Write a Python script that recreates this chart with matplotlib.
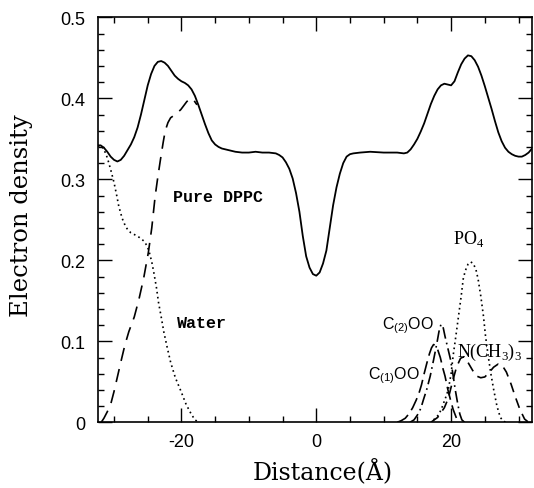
import matplotlib
matplotlib.use("Agg")
import matplotlib.pyplot as plt
from matplotlib.ticker import MultipleLocator

# ---- data ----
total_x = [-32.4, -32.0, -31.5, -31.0, -30.5, -30.0, -29.5, -29.0, -28.5, -28.0, -27.5, -27.0,
           -26.5, -26.0, -25.5, -25.0, -24.5, -24.0, -23.5, -23.0, -22.5, -22.0, -21.5, -21.0,
           -20.5, -20.0, -19.5, -19.0, -18.5, -18.0, -17.5, -17.0, -16.5, -16.0, -15.5, -15.0,
           -14.5, -14.0, -13.0, -12.0, -11.0, -10.0, -9.0, -8.0, -7.0, -6.0, -5.5, -5.0, -4.5,
           -4.0, -3.5, -3.0, -2.5, -2.0, -1.5, -1.0, -0.5, 0.0, 0.5, 1.0, 1.5, 2.0, 2.5, 3.0,
           3.5, 4.0, 4.5, 5.0, 5.5, 6.5, 8.0, 10.0, 12.0, 13.0, 13.5, 14.0, 14.5, 15.0, 15.5,
           16.0, 16.5, 17.0, 17.5, 18.0, 18.5, 19.0, 19.5, 20.0, 20.5, 21.0, 21.5, 22.0, 22.5,
           23.0, 23.5, 24.0, 24.5, 25.0, 25.5, 26.0, 26.5, 27.0, 27.5, 28.0, 28.5, 29.0, 29.5,
           30.0, 30.5, 31.0, 31.5, 32.0]
total_y = [0.341, 0.342, 0.339, 0.334, 0.328, 0.324, 0.322, 0.324, 0.329, 0.336, 0.343, 0.352,
           0.364, 0.380, 0.398, 0.416, 0.430, 0.440, 0.445, 0.446, 0.444, 0.440, 0.434, 0.428,
           0.424, 0.421, 0.419, 0.416, 0.411, 0.403, 0.392, 0.380, 0.368, 0.357, 0.348, 0.343,
           0.340, 0.338, 0.336, 0.334, 0.333, 0.333, 0.334, 0.333, 0.333, 0.332, 0.330, 0.327,
           0.321, 0.313, 0.301, 0.283, 0.260, 0.230, 0.205, 0.191, 0.183, 0.181, 0.185, 0.196,
           0.212, 0.240, 0.268, 0.290, 0.307, 0.320, 0.328, 0.331, 0.332, 0.333, 0.334, 0.333,
           0.333, 0.332, 0.333, 0.337, 0.343, 0.350, 0.359, 0.369, 0.381, 0.393, 0.403, 0.411,
           0.416, 0.418, 0.417, 0.416, 0.421, 0.432, 0.442, 0.449, 0.453, 0.452, 0.447, 0.439,
           0.428, 0.415, 0.401, 0.387, 0.372, 0.358, 0.347, 0.339, 0.334, 0.331, 0.329, 0.328,
           0.328, 0.330, 0.333, 0.338]

water_x = [-32.4, -32.0, -31.5, -31.1, -30.8, -30.4, -30.0, -29.6, -29.3, -28.8, -28.3, -27.9,
           -27.5, -26.8, -26.2, -25.6, -25.1, -24.8, -24.4, -24.1, -23.7, -23.4, -23.0, -22.6,
           -22.1, -21.6, -20.9, -20.1, -19.3, -18.6, -18.0, -17.4]
water_y = [0.342, 0.342, 0.337, 0.329, 0.321, 0.309, 0.296, 0.280, 0.267, 0.252, 0.242, 0.237,
           0.234, 0.231, 0.228, 0.224, 0.218, 0.211, 0.198, 0.185, 0.166, 0.148, 0.130, 0.111,
           0.092, 0.074, 0.055, 0.039, 0.022, 0.011, 0.003, 0.0]

lipid_x = [-31.9, -31.5, -31.0, -30.5, -30.0, -29.5, -29.0, -28.4, -27.8, -27.0, -26.3, -25.6,
           -24.9, -24.4, -23.9, -23.5, -23.1, -22.7, -22.4, -22.0, -21.6, -20.9, -20.1, -19.2,
           -18.6, -18.2, -17.7]
lipid_y = [0.0, 0.005, 0.013, 0.022, 0.038, 0.056, 0.074, 0.095, 0.112, 0.130, 0.152, 0.178,
           0.210, 0.240, 0.279, 0.303, 0.325, 0.346, 0.360, 0.370, 0.376, 0.380, 0.386, 0.396,
           0.400, 0.398, 0.392]

c1oo_x = [12.0, 12.6, 13.2, 13.8, 14.3, 14.8, 15.2, 15.6, 16.0, 16.4, 16.8, 17.1, 17.4, 17.7,
          18.0, 18.4, 18.8, 19.1, 19.5, 19.9, 20.3, 20.8, 21.3]
c1oo_y = [0.0, 0.002, 0.005, 0.011, 0.018, 0.027, 0.035, 0.046, 0.060, 0.073, 0.085, 0.092,
          0.096, 0.095, 0.090, 0.080, 0.066, 0.057, 0.041, 0.028, 0.016, 0.005, 0.0]

c2oo_x = [13.9, 14.5, 15.0, 15.5, 15.9, 16.4, 16.9, 17.4, 17.9, 18.2, 18.5, 18.8, 19.1, 19.5,
          19.9, 20.3, 20.6, 21.0, 21.3, 21.6, 22.0]
c2oo_y = [0.0, 0.003, 0.009, 0.017, 0.028, 0.041, 0.057, 0.077, 0.098, 0.112, 0.121, 0.118,
          0.106, 0.092, 0.078, 0.058, 0.041, 0.022, 0.010, 0.003, 0.0]

po4_x = [17.4, 18.0, 18.5, 18.9, 19.3, 19.6, 20.0, 20.3, 20.7, 21.1, 21.5, 21.8, 22.1, 22.5,
         22.9, 23.3, 23.7, 24.0, 24.4, 24.8, 25.1, 25.5, 25.9, 26.3, 26.8, 27.3, 27.8, 28.3]
po4_y = [0.003, 0.008, 0.015, 0.024, 0.033, 0.041, 0.060, 0.082, 0.106, 0.131, 0.156, 0.177,
         0.187, 0.195, 0.198, 0.196, 0.188, 0.177, 0.156, 0.131, 0.107, 0.082, 0.060, 0.041,
         0.020, 0.006, 0.001, 0.0]

nch3_x = [17.0, 18.0, 19.0, 19.6, 20.2, 20.8, 21.4, 21.9, 22.5, 23.2, 23.8, 24.4, 25.0, 25.6,
          26.3, 27.0, 27.6, 28.2, 28.9, 29.5, 30.2, 30.9, 31.5]
nch3_y = [0.0, 0.006, 0.018, 0.030, 0.050, 0.068, 0.079, 0.081, 0.074, 0.064, 0.057, 0.055,
          0.056, 0.061, 0.068, 0.072, 0.070, 0.062, 0.047, 0.032, 0.016, 0.004, 0.0]

x_ticks = [-20, 0, 20]
y_ticks = [0, 0.1, 0.2, 0.3, 0.4, 0.5]
y_tick_labels = ["0", "0.1", "0.2", "0.3", "0.4", "0.5"]

# ---- figure ----
fig = plt.figure(figsize=(5.34, 4.89), dpi=100)
ax = fig.add_axes([97.5 / 534, (489 - 423.3) / 489, 434.5 / 534, 405 / 489])

lw = 1.2
ax.plot(total_x, total_y, color="black", lw=lw + 0.1, solid_joinstyle="round")
ax.plot(water_x, water_y, color="black", lw=lw, linestyle=(0, (1.0, 2.0)))
ax.plot(lipid_x, lipid_y, color="black", lw=lw, linestyle=(0, (8, 5)))
ax.plot(c1oo_x, c1oo_y, color="black", lw=lw, linestyle=(0, (8, 3.5)))
ax.plot(c2oo_x, c2oo_y, color="black", lw=lw, linestyle=(0, (7, 2.5, 1, 2.5)))
ax.plot(po4_x, po4_y, color="black", lw=lw, linestyle=(0, (1.0, 2.0)))
ax.plot(nch3_x, nch3_y, color="black", lw=lw, linestyle=(0, (6, 4)))

ax.set_xlim(-32.45, 32.0)
ax.set_ylim(0, 0.5)
ax.set_xticks(x_ticks)
ax.set_xticklabels([str(v) for v in x_ticks])
ax.set_yticks(y_ticks)
ax.set_yticklabels(y_tick_labels)
ax.xaxis.set_minor_locator(MultipleLocator(5))
ax.yaxis.set_minor_locator(MultipleLocator(0.02))
ax.tick_params(which="both", direction="in", top=True, right=True, width=1.0, colors="black")
ax.tick_params(which="major", length=10)
ax.tick_params(which="minor", length=4.5)
ax.tick_params(axis="x", which="major", pad=8)
ax.tick_params(axis="y", which="major", pad=8.5)
for lab in ax.get_xticklabels() + ax.get_yticklabels():
    lab.set_fontfamily("Liberation Sans")
    lab.set_fontsize(13)
for s in ax.spines.values():
    s.set_linewidth(1.2)

ax.set_xlabel("Distance(Å)", fontfamily="DejaVu Serif", fontsize=17, labelpad=6)
ax.set_ylabel("Electron density", fontfamily="DejaVu Serif", fontsize=17.5, labelpad=20)
ax.xaxis.label.set_x(0.519)
ax.yaxis.label.set_y(0.514)

mono = dict(fontfamily="Liberation Mono", fontweight="bold", fontsize=12, va="center", ha="left")
ax.text(-21.2, 0.279, "Pure DPPC", **mono)
ax.text(-20.6, 0.123, "Water", **mono)
sans = dict(fontfamily="Liberation Sans", fontsize=11.5, va="center", ha="left")
ax.text(9.8, 0.121, r"C$_{\mathregular{(2)}}$OO", **sans)
ax.text(7.7, 0.059, r"C$_{\mathregular{(1)}}$OO", **sans)
serif = dict(fontfamily="Liberation Serif", fontsize=13, va="center", ha="left")
ax.text(20.9, 0.088, r"N(CH$_{\mathregular{3}}$)$_{\mathregular{3}}$", **serif)
ax.text(20.3, 0.228, r"PO$_{\mathregular{4}}$", **serif)

fig.savefig("out.png", dpi=100)
